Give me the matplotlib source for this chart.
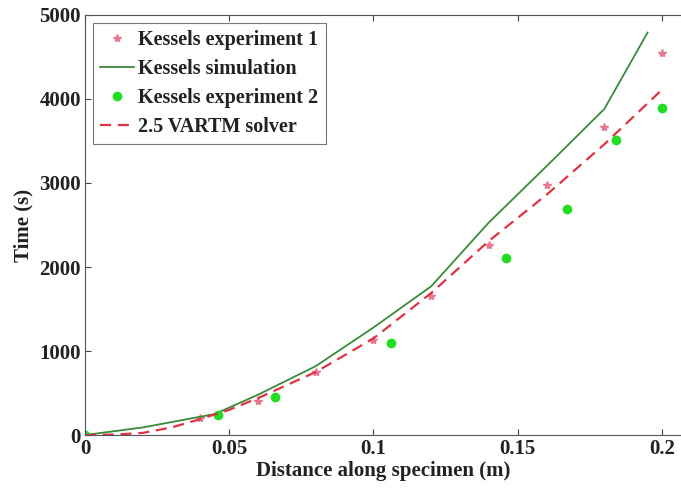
import matplotlib.pyplot as plt

# dados
x_exp1 = [0.0, 0.04, 0.06, 0.08, 0.10, 0.12, 0.14, 0.16, 0.18, 0.20]
t_exp1 = [0, 200, 400, 750, 1130, 1650, 2260, 2975, 3670, 4550]

x_sim = [0.0, 0.02, 0.045, 0.06, 0.08, 0.10, 0.12, 0.13, 0.14, 0.16, 0.18, 0.195]
t_sim = [0, 90, 250, 480, 820, 1280, 1770, 2150, 2530, 3200, 3880, 4790]

x_exp2 = [0.0, 0.046, 0.066, 0.106, 0.146, 0.167, 0.184, 0.20]
t_exp2 = [0, 240, 450, 1100, 2105, 2690, 3515, 3895]

x_vartm = [0.0, 0.01, 0.02, 0.03, 0.04, 0.05, 0.06, 0.08, 0.10, 0.12, 0.14, 0.16, 0.18, 0.20]
t_vartm = [0, 5, 25, 90, 190, 300, 440, 750, 1150, 1690, 2310, 2860, 3460, 4110]

plt.rcParams['font.family'] = 'Liberation Serif'
plt.rcParams['font.weight'] = 'bold'

fig = plt.figure(figsize=(6.81, 4.91), dpi=100)
ax = fig.add_axes([0.1248, 0.114, 1 - 0.1248, 0.9695 - 0.114])

ax.plot(x_exp1, t_exp1, '*', color='#e8788f', markersize=6, label='Kessels experiment 1')
ax.plot(x_sim, t_sim, '-', color='#3a8a3a', linewidth=1.3, label='Kessels simulation')
ax.plot(x_exp2, t_exp2, 'o', color='#22dd22', markersize=6, label='Kessels experiment 2')
ax.plot(x_vartm, t_vartm, '--', color='#dd3344', linewidth=1.6, dashes=(5, 3), label='2.5 VARTM solver')

ax.set_xlim(0, 0.2066)
ax.set_ylim(0, 5000)
ax.set_xticks([0, 0.05, 0.1, 0.15, 0.2])
ax.set_xticklabels(['0', '0.05', '0.1', '0.15', '0.2'])
ax.set_yticks([0, 1000, 2000, 3000, 4000, 5000])
ax.tick_params(direction='in', top=True, right=False, length=4, labelsize=15,
               colors='#444444', labelcolor='#222222', pad=3)
for lab in ax.get_xticklabels() + ax.get_yticklabels():
    lab.set_fontweight('bold')
ax.spines['right'].set_visible(False)
for s in ['left', 'bottom', 'top']:
    ax.spines[s].set_color('#555555')

ax.set_xlabel('Distance along specimen (m)', fontsize=15, fontweight='bold', labelpad=1, color='#222222')
ax.set_ylabel('Time (s)', fontsize=15, fontweight='bold', labelpad=4, color='#222222')

leg = ax.legend(loc='upper left', fontsize=14.5, frameon=True, fancybox=False,
                edgecolor='#555555', handlelength=1.7, handletextpad=0.2,
                borderaxespad=0.4, labelspacing=0.45, borderpad=0.35)
leg.get_frame().set_linewidth(0.8)
for txt in leg.get_texts():
    txt.set_color('#222222')

plt.savefig('out.png', dpi=100)
